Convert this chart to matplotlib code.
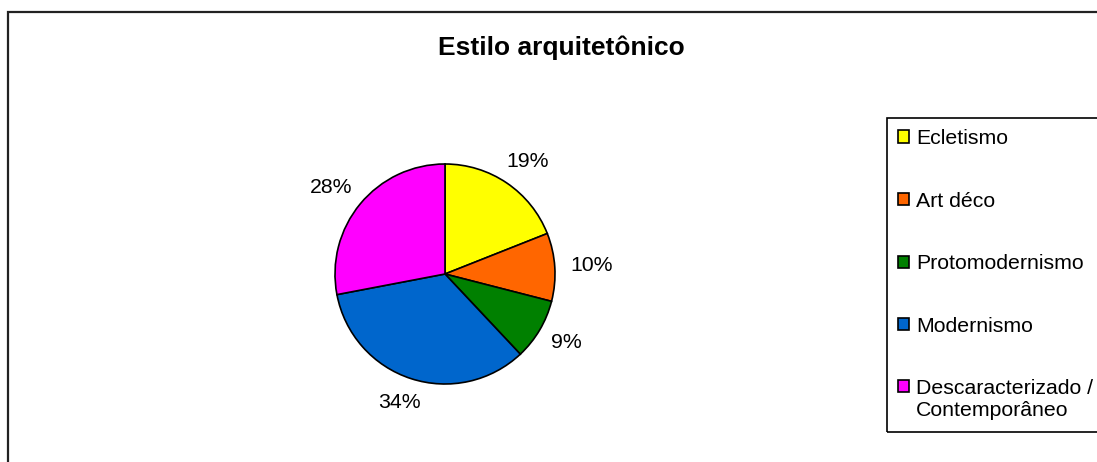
import numpy as np
import matplotlib
matplotlib.use('Agg')
import matplotlib.pyplot as plt
from matplotlib.patches import Rectangle
from matplotlib.legend_handler import HandlerPatch

plt.rcParams['font.family'] = ['Liberation Sans', 'DejaVu Sans']

estilos = ['Ecletismo', 'Art déco', 'Protomodernismo', 'Modernismo',
           'Descaracterizado /\nContemporâneo']
percentuais = [19, 10, 9, 34, 28]
cores = ['#FFFF00', '#FF6600', '#008000', '#0066CC', '#FF00FF']

W, H = 1097, 462
R_PX = 110      # raio da pizza em pixels
FS = 15.3

fig = plt.figure(figsize=(W / 100, H / 100), dpi=100)

# moldura do grafico (cortada a direita e embaixo)
fig.patches.append(Rectangle((8 / W, -0.1), 1.2, 1.1 - 12 / H,
                             transform=fig.transFigure, fill=False,
                             edgecolor='#222222', linewidth=1.6))
# moldura da legenda
fig.patches.append(Rectangle((887 / W, 1 - 432 / H), 0.5, (432 - 118) / H,
                             transform=fig.transFigure, fill=False,
                             edgecolor='black', linewidth=1.2))

fig.text(561 / W, 1 - 48 / H, 'Estilo arquitetônico', ha='center', va='center',
         fontsize=19, fontweight='bold')

ax = fig.add_axes([(445 - R_PX) / W, (H - 274 - R_PX) / H, 2 * R_PX / W, 2 * R_PX / H])
wedges, _, autotexts = ax.pie(percentuais, colors=cores, startangle=90,
                              counterclock=False, autopct='%d%%',
                              pctdistance=1.2,
                              wedgeprops=dict(edgecolor='black', linewidth=1.2))
ax.set_xlim(-1, 1)
ax.set_ylim(-1, 1)
ax.set_aspect('equal')

# rotulos fora da pizza, com a borda do texto a uma distancia fixa
for t in autotexts:
    t.set_fontsize(FS)
fig.canvas.draw()
r = fig.canvas.get_renderer()
for w, t in zip(wedges, autotexts):
    ang = np.deg2rad((w.theta1 + w.theta2) / 2)
    bb = t.get_window_extent(r)
    dist = 126
    x = dist * np.cos(ang) + bb.width / 2 * np.cos(ang)
    y = dist * np.sin(ang) + bb.height / 2 * np.sin(ang)
    t.set_position((x / R_PX, y / R_PX))


def quadrado(legend, orig_handle, xdescent, ydescent, width, height, fontsize):
    return Rectangle((-xdescent, -ydescent), width, height)


def quadrado_alto(legend, orig_handle, xdescent, ydescent, width, height, fontsize):
    return Rectangle((-xdescent, -ydescent + 9.7), width, height)


leg = fig.legend(wedges, estilos, loc='upper left',
                 bbox_to_anchor=(887 / W, 1 - 118 / H),
                 fontsize=FS, frameon=False,
                 handlelength=0.5, handleheight=0.5,
                 handletextpad=0.35, labelspacing=2.05, borderpad=0.52,
                 borderaxespad=0,
                 handler_map={wedges[4]: HandlerPatch(patch_func=quadrado_alto),
                              **{w: HandlerPatch(patch_func=quadrado) for w in wedges[:4]}})

fig.savefig('out.png', dpi=100)
